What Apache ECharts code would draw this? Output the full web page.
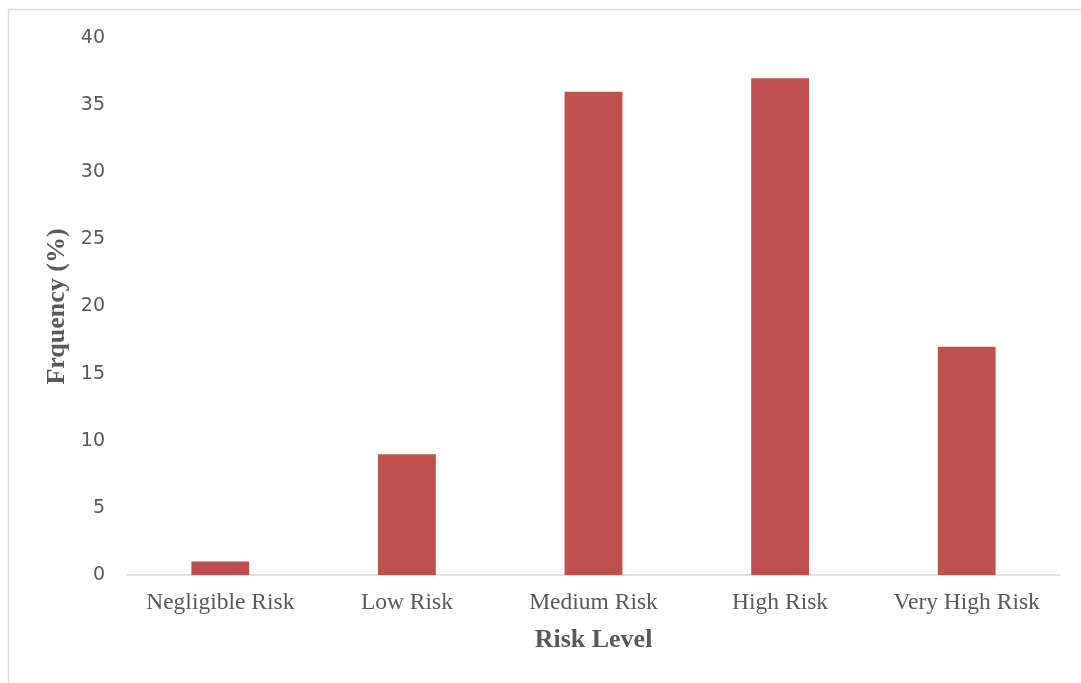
<!DOCTYPE html>
<html>
<head>
<meta charset="utf-8">
<style>
  html, body { margin: 0; padding: 0; background: #ffffff; }
  #chart { width: 1081px; height: 683px; }
</style>
<script src="https://cdn.jsdelivr.net/npm/echarts@6/dist/echarts.min.js"></script>
</head>
<body>
<div id="chart"></div>
<script>
// Risk level categories and their frequency shares
const categories = ['Negligible Risk', 'Low Risk', 'Medium Risk', 'High Risk', 'Very High Risk'];
const frequency = [1, 9, 36, 37, 17];
const yTicks = { min: 0, max: 40, interval: 5 };

const chart = echarts.init(document.getElementById('chart'), null, { renderer: 'canvas' });

chart.setOption({
  backgroundColor: '#ffffff',
  animation: false,
  graphic: [{
    type: 'rect',
    shape: { x: 8.5, y: 9.5, width: 1100, height: 700 },
    style: { fill: 'none', stroke: '#d9d9d9', lineWidth: 1.5 },
    silent: true
  }],
  grid: { left: 127, right: 21, top: 38, bottom: 108, containLabel: false },
  xAxis: {
    type: 'category',
    data: categories,
    name: 'Risk Level',
    nameLocation: 'middle',
    nameGap: 52,
    nameTextStyle: { fontFamily: 'Liberation Serif', fontWeight: 'bold', fontSize: 26, color: '#595959' },
    axisLine: { lineStyle: { color: '#d9d9d9', width: 1.5 } },
    axisTick: { show: false },
    axisLabel: { interval: 0, fontFamily: 'Liberation Serif', fontSize: 23.5, color: '#595959', margin: 16 }
  },
  yAxis: {
    type: 'value',
    min: yTicks.min,
    max: yTicks.max,
    interval: yTicks.interval,
    name: 'Frquency (%)',
    nameLocation: 'middle',
    nameGap: 54,
    nameTextStyle: { fontFamily: 'Liberation Serif', fontWeight: 'bold', fontSize: 26, color: '#595959' },
    axisLine: { show: false },
    axisTick: { show: false },
    splitLine: { show: false },
    axisLabel: { fontFamily: 'DejaVu Sans', fontSize: 19, color: '#595959', margin: 22 }
  },
  series: [{
    type: 'bar',
    data: frequency,
    barWidth: '31%',
    itemStyle: { color: '#c0504d' }
  }]
});
</script>
</body>
</html>
